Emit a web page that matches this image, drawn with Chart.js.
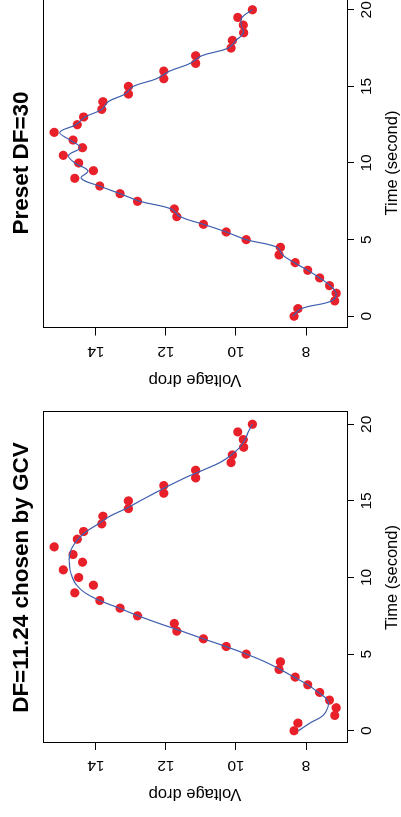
<!DOCTYPE html>
<html><head><meta charset="utf-8">
<script src="https://cdn.jsdelivr.net/npm/chart.js@4/dist/chart.umd.min.js"></script>
<style>
html,body{margin:0;padding:0;background:#fff;overflow:hidden;width:401px;height:817px;}
#fig{position:absolute;left:0;top:0;width:834px;height:410px;transform-origin:0 0;transform:translate(0,817px) rotate(-90deg);background:#fff;}
#c1{position:absolute;left:0;top:0;}
#c2{position:absolute;left:414px;top:0;}
</style></head><body>
<div id="fig"><canvas id="c1" width="414" height="410"></canvas><canvas id="c2" width="420" height="410"></canvas></div>
<script>
const timeSec = [0,0.5,1,1.5,2,2.5,3,3.5,4,4.5,5,5.5,6,6.5,7,7.5,8,8.5,9,9.5,10,10.5,11,11.5,12,12.5,13,13.5,14,14.5,15,15.5,16,16.5,17,17.5,18,18.5,19,19.5,20];
const voltageObs = [8.34,8.23,7.18,7.14,7.33,7.61,7.95,8.31,8.77,8.73,9.71,10.28,10.93,11.69,11.76,12.81,13.31,13.89,14.60,14.07,14.49,14.93,14.38,14.65,15.19,14.53,14.35,13.83,13.80,13.07,13.07,12.06,12.06,11.15,11.15,10.14,10.10,9.78,9.79,9.95,9.53];
const fitGCV = [8.22,7.89,7.51,7.38,7.39,7.65,7.95,8.34,8.74,9.17,9.70,10.29,10.93,11.55,12.19,12.79,13.33,13.89,14.31,14.55,14.67,14.74,14.76,14.75,14.67,14.51,14.27,13.93,13.60,13.14,12.74,12.33,11.91,11.46,10.95,10.46,10.13,9.89,9.74,9.65,9.53];
const fitDF30 = [8.38,8.13,7.27,7.14,7.31,7.61,7.95,8.34,8.67,8.82,9.71,10.28,10.93,11.60,11.85,12.74,13.31,13.90,14.42,14.23,14.60,14.78,14.45,14.74,15.03,14.57,14.31,13.83,13.65,13.17,12.93,12.27,11.89,11.31,10.98,10.22,10.00,9.79,9.85,9.83,9.53];
const timeTicks = [0,5,10,15,20];
const voltTicks = [8,10,12,14];
const panelTitles = ['DF=11.24 chosen by GCV','Preset DF=30'];
const xTitle = 'Time (second)';
const yTitle = 'Voltage drop';

const FAM = '"Liberation Sans", Arial, Helvetica, sans-serif';
const boxPlugin = {
  id:'box',
  afterDraw(chart){
    const {ctx, chartArea:{left,top,right,bottom}} = chart;
    ctx.save();
    ctx.strokeStyle = '#000'; ctx.lineWidth = 1;
    ctx.strokeRect(Math.round(left)+0.5, Math.round(top)+0.5, Math.round(right)-Math.round(left), Math.round(bottom)-Math.round(top));
    ctx.restore();
  }
};

function makeChart(id, fit, title, yWidth, padRight){
  const tickGrid = {display:true, drawOnChartArea:false, drawTicks:true, tickLength:7, tickColor:'#000', tickWidth:1};
  return new Chart(document.getElementById(id), {
    type:'scatter',
    data:{datasets:[
      {data: timeSec.map((t,i)=>({x:t,y:fit[i]})), showLine:true, borderColor:'#3F5FAF', borderWidth:1.2, pointRadius:0, tension:0.4, fill:false, order:0},
      {data: timeSec.map((t,i)=>({x:t,y:voltageObs[i]})), showLine:false, pointRadius:4.6, pointBackgroundColor:'#E8202A', pointBorderWidth:0, pointBorderColor:'#E8202A', order:1}
    ]},
    options:{
      responsive:false, animation:false, devicePixelRatio:1,
      layout:{padding:{left:0,right:padRight,top:0,bottom:0}},
      plugins:{
        legend:{display:false}, tooltip:{enabled:false},
        title:{display:true, text:title, fullSize:false, color:'#000', font:{family:FAM, size:22.5, weight:'bold', lineHeight:1.2}, padding:{top:8,bottom:8}}
      },
      scales:{
        x:{type:'linear', position:'bottom', min:-0.8, max:20.8,
          afterBuildTicks:s=>{ s.ticks = timeTicks.map(v=>({value:v})); },
          afterFit:s=>{ s.height = 63; },
          grid:tickGrid, border:{display:false},
          ticks:{color:'#000', font:{family:FAM,size:15.5}, padding:3, minRotation:0, maxRotation:0, autoSkip:false},
          title:{display:true, text:xTitle, color:'#000', font:{family:FAM,size:16.5,lineHeight:1.2}, padding:{top:0,bottom:8}}
        },
        y:{type:'linear', position:'left', min:6.83, max:15.51,
          afterBuildTicks:s=>{ s.ticks = voltTicks.map(v=>({value:v})); },
          afterFit:s=>{ s.width = yWidth; },
          grid:tickGrid, border:{display:false},
          ticks:{color:'#000', font:{family:FAM,size:15.5}, padding:7, minRotation:90, maxRotation:90, crossAlign:'center', autoSkip:false},
          title:{display:true, text:yTitle, color:'#000', font:{family:FAM,size:16.5,lineHeight:1.2}, padding:{top:14,bottom:0}}
        }
      }
    },
    plugins:[boxPlugin]
  });
}
makeChart('c1', fitGCV, panelTitles[0], 74, 9);
makeChart('c2', fitDF30, panelTitles[1], 74.5, 14.5);
</script>
</body></html>
